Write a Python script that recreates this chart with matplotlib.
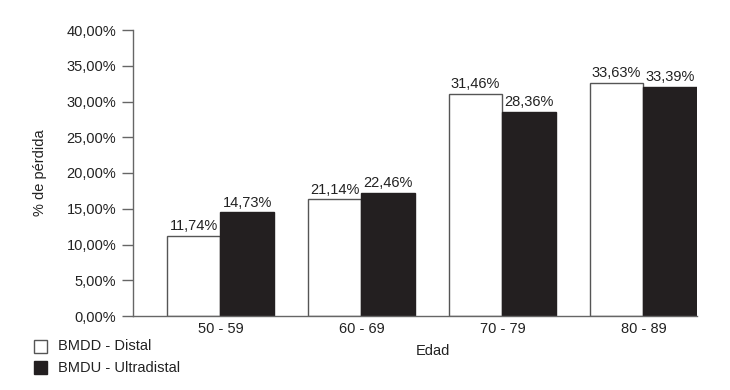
import matplotlib
matplotlib.use("Agg")
import matplotlib.pyplot as plt
import numpy as np
from matplotlib.patches import Rectangle

plt.rcParams['font.family'] = ['Liberation Sans', 'DejaVu Sans']

categories = ["50 - 59", "60 - 69", "70 - 79", "80 - 89"]
series_names = ["BMDD - Distal", "BMDU - Ultradistal"]
# bar heights as drawn in the picture (%)
bmdd_heights = [11.2, 16.3, 31.1, 32.6]
bmdu_heights = [14.5, 17.2, 28.5, 32.0]
# value labels as printed
bmdd_labels = ["11,74%", "21,14%", "31,46%", "33,63%"]
bmdu_labels = ["14,73%", "22,46%", "28,36%", "33,39%"]
yticks = [0, 5, 10, 15, 20, 25, 30, 35, 40]
ytick_labels = ["0,00%", "5,00%", "10,00%", "15,00%", "20,00%", "25,00%", "30,00%", "35,00%", "40,00%"]

FS = 10.5
fig = plt.figure(figsize=(7.3, 3.9), dpi=100)
ax = fig.add_axes([133/730, 1-316/390, (697-133)/730, (316-30)/390])

x = np.arange(len(categories))
w = 0.38
white_color = "white"
black_color = "#231f20"
edge = "#555555"

b1 = ax.bar(x - w/2, bmdd_heights, w, color=white_color, edgecolor=edge, linewidth=1.0)
b2 = ax.bar(x + w/2, bmdu_heights, w, color=black_color, edgecolor=black_color, linewidth=1.0)

for bars, labels in ((b1, bmdd_labels), (b2, bmdu_labels)):
    for rect, lab in zip(bars, labels):
        ax.annotate(lab, (rect.get_x() + rect.get_width()/2, rect.get_height()),
                    xytext=(0, 2), textcoords="offset points",
                    ha="center", va="bottom", fontsize=FS, color="#222222")

ax.set_xlim(-0.62, x[-1] + w)
ax.set_ylim(0, 40)
ax.set_yticks(yticks)
ax.set_yticklabels(ytick_labels, fontsize=FS, color="#222222")
ax.set_xticks(x)
ax.set_xticklabels(categories, fontsize=FS, color="#222222")
ax.tick_params(axis="x", length=0, pad=4)
ax.tick_params(axis="y", length=8, width=1, color="#666666", pad=4)
for s in ("top", "right"):
    ax.spines[s].set_visible(False)
for s in ("left", "bottom"):
    ax.spines[s].set_color("#666666")
    ax.spines[s].set_linewidth(1.0)

ax.set_ylabel("% de pérdida", fontsize=FS, color="#222222", labelpad=14)
fig.text(433/730, 1-351/390, "Edad", ha="center", va="center", fontsize=FS, color="#222222")

# legend at bottom-left
for i, (name, fc, ec) in enumerate(zip(series_names, [white_color, black_color], [edge, black_color])):
    yc = 346 + i * 21
    fig.patches.append(Rectangle((34/730, 1-(yc+7)/390), 13/730, 13/390, transform=fig.transFigure,
                                 facecolor=fc, edgecolor=ec, linewidth=1.0))
    fig.text(58/730, 1-(yc+0.5)/390, name, ha="left", va="center", fontsize=FS, color="#222222")

fig.savefig("out.png", dpi=100)
